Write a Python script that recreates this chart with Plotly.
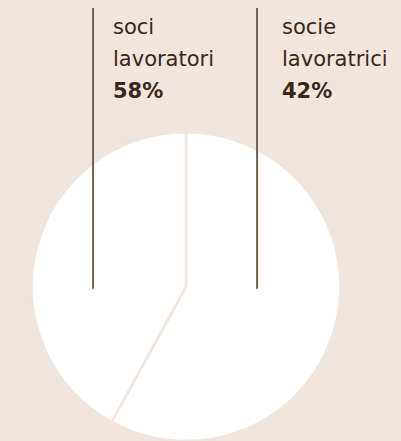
import plotly.graph_objects as go

# chart data
groups = ["soci<br>lavoratori", "socie<br>lavoratrici"]
shares = [58, 42]

BG = "#f0e6dd"
INK = "#3b2618"

fig = go.Figure()

fig.add_trace(go.Pie(
    values=shares,
    labels=groups,
    sort=False,
    direction="clockwise",
    rotation=0,
    textinfo="none",
    hoverinfo="none",
    showlegend=False,
    marker=dict(colors=["#ffffff", "#ffffff"], line=dict(color=BG, width=2.5)),
    domain=dict(x=[0.0748, 0.853], y=[0.0, 0.70]),
))

# label columns: leader line x, text x (paper coords)
line_x = [0.232, 0.641]
text_x = [0.276, 0.698]
line_y = [0.345, 0.982]

annotations = []
shapes = []
for i, (g, s) in enumerate(zip(groups, shares)):
    shapes.append(dict(type="line", xref="paper", yref="paper",
                       x0=line_x[i], x1=line_x[i], y0=line_y[0], y1=line_y[1],
                       line=dict(color="#4a3526", width=1.5), layer="above"))
    rows = g.split("<br>") + [f"<b>{s}%</b>"]
    for j, t in enumerate(rows):
        annotations.append(dict(
            text=t, x=text_x[i], y=1 - (27 + 32 * j) / 441,
            xref="paper", yref="paper", xanchor="left", yanchor="middle",
            showarrow=False, font=dict(family="DejaVu Sans", size=21, color=INK),
        ))

fig.update_layout(
    width=401, height=441,
    margin=dict(l=0, r=0, t=0, b=0),
    paper_bgcolor=BG, plot_bgcolor=BG,
    shapes=shapes,
    annotations=annotations,
)

# page body margin would leave a white frame around the figure
fig.write_html("out.html", config={"displayModeBar": False},
               post_script="document.body.style.margin='0';")
